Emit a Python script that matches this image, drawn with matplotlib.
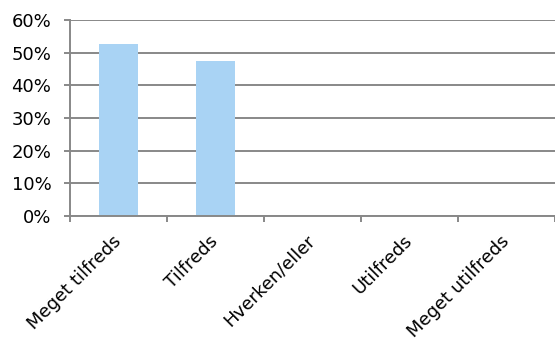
import numpy as np
import matplotlib.pyplot as plt
from matplotlib.ticker import PercentFormatter

FONTSIZE = 13

categories = ["Meget tilfreds", "Tilfreds", "Hverken/eller", "Utilfreds", "Meget utilfreds"]
shares = [0.526, 0.474, 0.0, 0.0, 0.0]

fig = plt.figure(figsize=(5.55, 3.4), dpi=100)
ax = fig.add_axes([70 / 555, 1 - 216 / 340, 485 / 555, 196 / 340])

x = np.arange(len(categories))
ax.bar(x, shares, width=0.4, color="#A9D3F4", zorder=2)

ax.set_xlim(-0.5, len(categories) - 0.5)
ax.set_ylim(0, 0.6)
ax.set_yticks(np.arange(0, 0.61, 0.1))
ax.yaxis.set_major_formatter(PercentFormatter(1.0, decimals=0))
ax.grid(axis="y", color="#888888", linewidth=1.4, zorder=1)

ax.set_xticks(x)
ax.set_xticklabels(categories, rotation=45, ha="right", va="center", rotation_mode="anchor", fontsize=FONTSIZE)
ax.set_xticks(np.arange(-0.5, len(categories)), minor=True)
ax.tick_params(axis="x", which="major", length=0, pad=16)
ax.tick_params(axis="x", which="minor", length=4.5, color="#888888", width=1.4)
ax.tick_params(axis="y", length=4.5, color="#888888", width=1.4, labelsize=FONTSIZE, pad=9)

for side in ["top", "right"]:
	ax.spines[side].set_visible(False)
for side in ["left", "bottom"]:
	ax.spines[side].set_color("#888888")
	ax.spines[side].set_linewidth(1.4)

plt.savefig("out.png", dpi=100)
